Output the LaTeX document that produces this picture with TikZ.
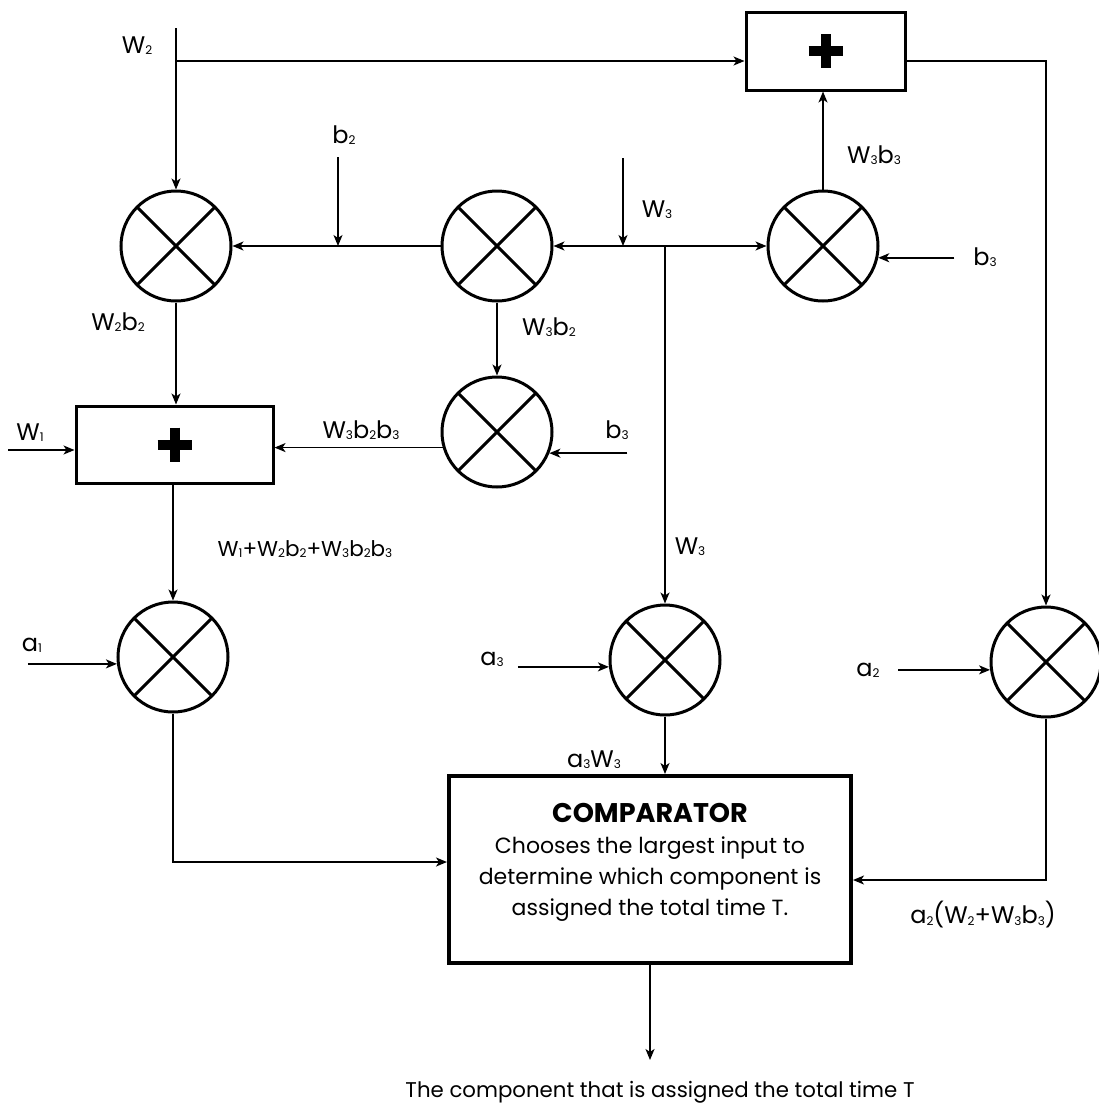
\documentclass[tikz,border=0pt]{standalone}
\usepackage{fontspec}
\setmainfont{Poppins}
\usetikzlibrary{arrows.meta,calc}
\newcommand\sbs[1]{\raisebox{-0.05em}{\fontsize{12}{12}\selectfont #1}}
\begin{document}
\begin{tikzpicture}[x=1pt,y=-1pt,
  arr/.style={line width=1.6pt,-{Stealth[length=11pt,width=9pt,inset=3pt]}},
  mult/.style={circle,draw,line width=3pt,minimum size=110pt,inner sep=0pt,
    path picture={\draw[line width=3pt] (path picture bounding box.north west) -- (path picture bounding box.south east)
      (path picture bounding box.north east) -- (path picture bounding box.south west);}},
  plusbox/.style={draw,line width=3pt,inner sep=0pt,
    path picture={\draw[line width=10pt] (path picture bounding box.center) +(-17,0) -- +(17,0) +(0,-17) -- +(0,17);}},
  lbl/.style={font=\fontsize{24}{26}\selectfont,inner sep=0pt},
  txt/.style={font=\fontsize{22}{31}\selectfont,align=center,inner sep=0pt}
]
\useasboundingbox (0,0) rectangle (1099,1114);

% blocks
\node[mult] (m1) at (176,246) {};
\node[mult] (m2) at (497,246) {};
\node[mult] (m3) at (823,246) {};
\node[mult] (m4) at (497,432) {};
\node[mult] (m5) at (173,657) {};
\node[mult] (m6) at (665,660) {};
\node[mult] (m7) at (1046,662) {};
\node[plusbox,minimum width=159pt,minimum height=78pt] (p2) at (825.5,51) {};
\node[plusbox,minimum width=197pt,minimum height=77pt] (p1) at (174.5,444.5) {};
\node[draw,line width=4pt,minimum width=402pt,minimum height=187pt,inner sep=0pt] (cmp) at (650,869.5) {};
\node[txt] (cmptext) at (650,862)
  {{\fontsize{27}{31}\selectfont\bfseries COMPARATOR}\\Chooses the largest input to\\determine which component is\\assigned the total time T.};

% coordinates
\coordinate (w2top) at (176,28);
\coordinate (w2j) at (176,61);
\coordinate (p2r) at (1046,61);
\coordinate (w3in) at (623,158);
\coordinate (j0) at (623,246);
\coordinate (j1) at (665,246);
\coordinate (b2in) at (338,157);
\coordinate (b2j) at (338,246);
\coordinate (w1in) at (8,450);
\coordinate (k1) at (173,862);
\coordinate (k2) at (1046,880);
\coordinate (outp) at (650,1060);

% connectors
\draw[arr] (w2top) -- (m1);
\draw[arr] (w2j) -- (w2j -| p2.west);
\draw[arr] (w2j -| p2.east) -- (p2r) -- (m7);
\draw[arr] (m3) -- (m3 |- p2.south);
\draw[arr] ([xshift=76pt]m3.-12) -- (m3.-12);
\draw[arr] (w3in) -- (j0);
\draw[arr] (j1) -- (m2);
\draw[arr] (j1) -- (m3);
\draw[arr] (j1) -- (m6);
\draw[arr] (m2) -- (m1);
\draw[arr] (b2in) -- (b2j);
\draw[arr] (m1) -- (m1 |- p1.north);
\draw[arr] (m2) -- (m4);
\draw[arr] (m4.196) -- (m4.196 -| p1.east);
\draw[arr] ([xshift=78pt]m4.-22) -- (m4.-22);
\draw[arr] (w1in) -- (w1in -| p1.west);
\draw[arr] (m5 |- p1.south) -- (m5);
\draw[arr] ([xshift=-89pt]m5.187) -- (m5.187);
\draw[arr] ([xshift=-91pt]m6.187) -- (m6.187);
\draw[arr] ([xshift=-92pt]m7.188) -- (m7.188);
\draw[arr] (m5) -- (k1) -- (k1 -| cmp.west);
\draw[arr] (m6) -- (m6 |- cmp.north);
\draw[arr] (m7) -- (k2) -- (k2 -| cmp.east);
\draw[arr] (cmp.south) -- (outp);

% labels
\node[lbl] (lw2) at (137,46) {W\sbs{2}};
\node[lbl] (lb2) at (344,135) {b\sbs{2}};
\node[lbl] (lw3a) at (657,210) {W\sbs{3}};
\node[lbl] (lw3b3) at (874,155) {W\sbs{3}b\sbs{3}};
\node[lbl] (lb3a) at (985,257) {b\sbs{3}};
\node[lbl] (lw2b2) at (118,322) {W\sbs{2}b\sbs{2}};
\node[lbl] (lw3b2) at (549,327) {W\sbs{3}b\sbs{2}};
\node[lbl] (lw1) at (30,433) {W\sbs{1}};
\node[lbl] (lw3b2b3) at (361,430) {W\sbs{3}b\sbs{2}b\sbs{3}};
\node[lbl] (lb3b) at (617,430) {b\sbs{3}};
\node[lbl,font=\fontsize{21.5}{24}\selectfont] (lsum) at (305,549) {W\sbs{1}+W\sbs{2}b\sbs{2}+W\sbs{3}b\sbs{2}b\sbs{3}};
\node[lbl] (lw3c) at (690,547) {W\sbs{3}};
\node[lbl] (la1) at (32,645) {a\sbs{1}};
\node[lbl] (la3) at (492,659) {a\sbs{3}};
\node[lbl] (la2) at (868,670) {a\sbs{2}};
\node[lbl] (la3w3) at (594,760) {a\sbs{3}W\sbs{3}};
\node[lbl] (la2w) at (983,915) {a\sbs{2}(W\sbs{2}+W\sbs{3}b\sbs{3})};
\node[txt,font=\fontsize{21.3}{25}\selectfont] (lout) at (660,1092) {The component that is assigned the total time T};
\end{tikzpicture}
\end{document}
